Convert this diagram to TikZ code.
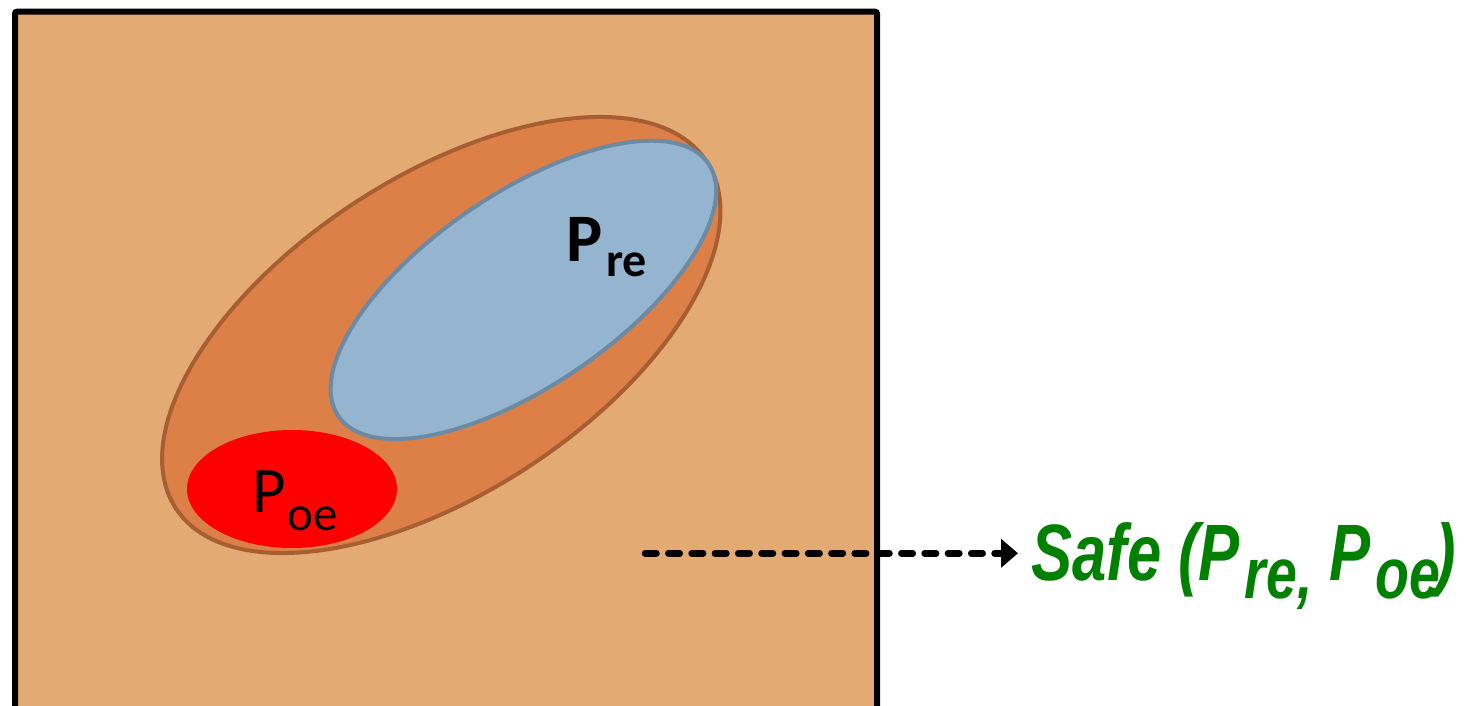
\documentclass[tikz,border=0pt]{standalone}
\usepackage{fontspec}
\setmainfont{Carlito}
\newfontfamily\arialfont{Liberation Sans}
\usetikzlibrary{arrows.meta,shapes.geometric}
\definecolor{boxfill}{HTML}{E3AA74}
\definecolor{outerfill}{HTML}{DC8048}
\definecolor{outerline}{HTML}{A65E32}
\definecolor{bluefill}{HTML}{95B4D0}
\definecolor{blueline}{HTML}{6C8AA3}
\definecolor{safegreen}{HTML}{008000}
\tikzset{
  ellbase/.style={ellipse, inner sep=0pt, outer sep=0pt},
  outerell/.style={ellbase, draw=outerline, fill=outerfill, line width=4pt},
  blueell/.style={ellbase, draw=blueline, fill=bluefill, line width=4pt},
  redell/.style={ellbase, fill=red},
  plabel/.style={inner sep=0pt, anchor=base west, text=black},
  safelabel/.style={inner sep=0pt, anchor=base west, text=safegreen},
  arrowline/.style={line width=6.5pt, line cap=round, dash pattern=on 11.5pt off 11.8pt,
    -{Triangle[length=17pt,width=28pt,sharp]}},
}
\newcommand{\subsafe}[1]{\raisebox{-18pt}{\fontsize{72}{72}\selectfont #1}}
\begin{document}
\begin{tikzpicture}[x=1pt,y=-1pt]
\useasboundingbox (0,0) rectangle (1467,706);
\clip (0,0) rectangle (1467,706);
\draw[line width=6pt, fill=boxfill, rounded corners=2pt] (15,11.7) rectangle (877,740);
\node[outerell, minimum width=634pt, minimum height=316pt, rotate=33.15] (outer) at (441.25,335) {};
\node[blueell, minimum width=448pt, minimum height=192pt, rotate=34.34] (pre) at (523.4,289.9) {};
\node[redell, minimum width=210pt, minimum height=118pt] (poe) at (292,489) {};
\node[plabel, font=\fontsize{68}{68}\selectfont\bfseries] (prelabel) at (566,261.7)
  {P\hspace{4pt}\raisebox{-15pt}{\fontsize{48}{48}\selectfont re}};
\node[plabel, font=\fontsize{65}{65}\selectfont] (poelabel) at (252,512)
  {P\hspace{2pt}\raisebox{-18pt}{\fontsize{49}{49}\selectfont oe}};
\node[safelabel, font=\arialfont\fontsize{80}{80}\selectfont\bfseries\itshape] (safe) at (1031,580)
  {\scalebox{0.77}[1]{Safe (P\hspace{6pt}\subsafe{re,} P\hspace{6pt}\subsafe{oe}\hspace{-6pt})}};
\coordinate (arrowstart) at (645,553.3);
\draw[arrowline, shorten >=13pt] (arrowstart) -- (arrowstart -| safe.west);
\end{tikzpicture}
\end{document}
